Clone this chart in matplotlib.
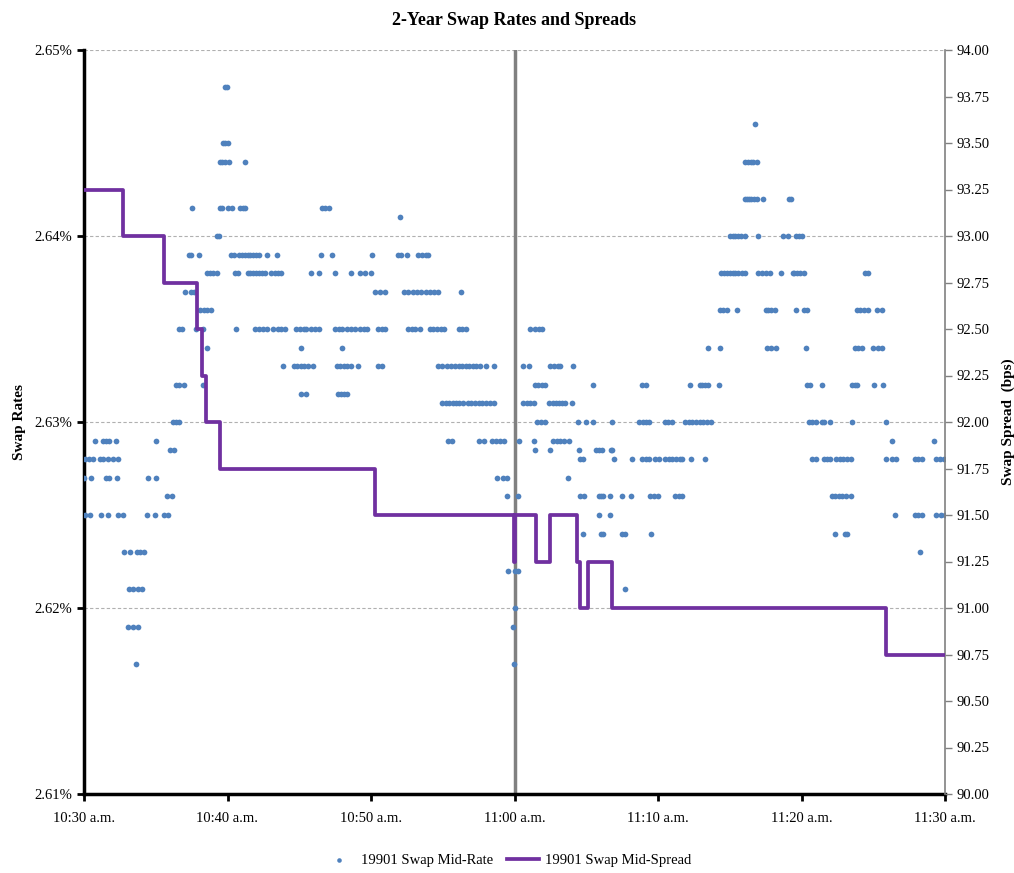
import matplotlib.pyplot as plt
import numpy as np

plt.rcParams['font.family'] = ['Liberation Serif', 'DejaVu Serif']

# mid-rate observations: rate level (%) -> minutes after 10:30
rate_levels = [2.648, 2.646, 2.645, 2.644, 2.642, 2.6415, 2.641, 2.640, 2.639, 2.638,
               2.637, 2.636, 2.635, 2.634, 2.633, 2.632, 2.6315, 2.631, 2.630, 2.629,
               2.6285, 2.628, 2.627, 2.626, 2.625, 2.624, 2.623, 2.622, 2.621, 2.620,
               2.619, 2.617]
rate_minutes = [
    [9.8, 9.95],
    [46.75],
    [9.7, 9.85, 10.0],
    [9.5, 9.65, 9.8, 10.1, 11.2, 46.05, 46.25, 46.45, 46.65, 46.9],
    [46.05, 46.2, 46.35, 46.5, 46.7, 46.9, 47.3, 49.1, 49.3],
    [7.5, 9.5, 9.65, 10.05, 10.3, 10.9, 11.05, 11.2, 16.6, 16.8, 17.05],
    [22.05],
    [9.25, 9.4, 45.0, 45.2, 45.4, 45.6, 45.8, 46.05, 47.0, 48.7, 49.05, 49.6, 49.8, 50.0],
    [7.3, 7.45, 8.0, 10.25, 10.45, 10.8, 11.0, 11.2, 11.4, 11.6, 11.8, 12.0, 12.2, 12.75,
     13.45, 16.5, 17.3, 20.1, 21.9, 22.1, 22.5, 23.3, 23.55, 23.8, 24.0],
    [8.6, 8.8, 9.0, 9.3, 10.5, 10.75, 11.4, 11.6, 11.8, 12.0, 12.2, 12.4, 12.6, 13.0, 13.3,
     13.5, 13.7, 15.8, 16.4, 17.5, 18.6, 19.2, 19.6, 20.0, 44.4, 44.6, 44.8, 45.0, 45.2,
     45.4, 45.6, 45.85, 46.05, 47.0, 47.25, 47.5, 47.8, 48.6, 49.4, 49.5, 49.7, 49.9, 50.2,
     54.4, 54.6],
    [7.05, 7.45, 7.7, 20.3, 20.65, 20.95, 22.3, 22.6, 22.9, 23.2, 23.5, 23.8, 24.1, 24.4,
     24.7, 26.3],
    [8.1, 8.35, 8.6, 8.85, 44.3, 44.5, 44.8, 45.5, 47.5, 47.7, 47.9, 48.15, 49.6, 50.2, 50.4,
     53.9, 54.1, 54.35, 54.6, 55.25, 55.6],
    [6.6, 6.85, 7.8, 8.3, 10.6, 11.9, 12.2, 12.5, 12.75, 13.2, 13.5, 13.75, 14.0, 14.8, 15.05,
     15.3, 15.5, 15.8, 16.1, 16.4, 17.5, 17.75, 18.0, 18.3, 18.6, 18.9, 19.2, 19.5, 19.7,
     20.5, 20.75, 21.0, 22.6, 22.85, 23.1, 23.4, 24.1, 24.35, 24.6, 24.85, 25.1, 26.1, 26.35,
     26.6, 31.1, 31.4, 31.7, 31.95],
    [8.55, 15.1, 18.0, 43.5, 44.3, 47.6, 47.85, 48.2, 50.3, 53.7, 53.95, 54.2, 55.0, 55.3,
     55.6],
    [13.9, 14.6, 14.85, 15.1, 15.35, 15.6, 15.95, 17.6, 17.85, 18.1, 18.35, 18.6, 19.1, 20.5,
     20.8, 24.7, 24.95, 25.3, 25.6, 25.85, 26.1, 26.35, 26.6, 26.85, 27.1, 27.35, 27.6, 28.0,
     28.6, 30.6, 31.0, 32.5, 32.75, 33.0, 33.2, 34.1],
    [6.4, 6.65, 6.95, 8.3, 31.4, 31.65, 31.9, 32.1, 35.5, 38.9, 39.15, 42.2, 42.9, 43.05,
     43.25, 43.5, 44.25, 50.4, 50.6, 51.4, 53.5, 53.75, 53.9, 55.05, 55.7],
    [15.1, 15.5, 17.7, 17.9, 18.1, 18.3],
    [24.95, 25.2, 25.45, 25.7, 25.95, 26.1, 26.4, 26.75, 27.0, 27.25, 27.5, 27.75, 28.0, 28.3,
     28.6, 30.6, 30.85, 31.1, 31.35, 32.4, 32.65, 32.9, 33.1, 33.3, 33.5, 34.0],
    [6.2, 6.4, 6.6, 31.6, 31.85, 32.1, 34.4, 35.0, 35.5, 36.8, 38.7, 38.95, 39.15, 39.4, 40.5,
     40.7, 41.0, 41.9, 42.15, 42.4, 42.65, 42.9, 43.15, 43.4, 43.7, 50.5, 50.75, 51.0, 51.4,
     51.6, 52.0, 53.5, 55.9],
    [0.75, 1.3, 1.5, 1.75, 2.2, 5.05, 25.4, 25.65, 27.5, 27.9, 28.4, 28.7, 29.0, 29.3, 30.3,
     31.35, 32.7, 32.95, 33.2, 33.45, 33.8, 56.3, 59.2],
    [6.0, 6.3, 31.4, 32.5, 34.5, 35.7, 35.9, 36.1, 36.7, 36.8],
    [0.1, 0.35, 0.6, 1.1, 1.35, 1.7, 2.05, 2.4, 34.55, 34.8, 36.9, 38.2, 38.9, 39.15, 39.4,
     39.8, 40.1, 40.5, 40.75, 41.0, 41.25, 41.5, 41.7, 42.3, 43.3, 50.7, 51.0, 51.6, 51.8,
     52.0, 52.4, 52.65, 52.9, 53.15, 53.45, 55.9, 56.3, 56.6, 57.9, 58.15, 58.4, 59.4, 59.65,
     59.9],
    [0.0, 0.5, 1.5, 1.75, 2.3, 4.45, 5.05, 28.8, 29.2, 29.5, 33.7],
    [5.75, 6.1, 29.5, 30.25, 34.55, 34.85, 35.9, 36.05, 36.2, 36.65, 37.5, 38.1, 39.45, 39.7,
     40.0, 41.2, 41.45, 41.7, 52.1, 52.35, 52.6, 52.85, 53.1, 53.45],
    [0.1, 0.45, 1.15, 1.65, 2.35, 2.75, 4.4, 4.95, 5.6, 5.85, 35.9, 36.65, 56.5, 57.9, 58.15,
     58.4, 59.4, 59.7, 60.0],
    [34.8, 36.0, 36.2, 37.5, 37.7, 39.5, 52.3, 53.0, 53.2],
    [2.8, 3.2, 3.7, 3.9, 4.2, 58.25],
    [29.55, 30.05, 30.25],
    [3.15, 3.4, 3.75, 4.05, 37.7],
    [30.0],
    [3.1, 3.4, 3.75, 29.9],
    [3.6, 29.95],
]

# mid-spread (bps), step changes at these minutes after 10:30
spread_minutes = [0, 2.75, 5.6, 7.85, 8.2, 8.5, 9.5, 20.3, 29.95, 30.05, 31.5, 32.5,
                  34.35, 34.55, 35.1, 36.8, 55.9, 60]
spread_bps = [93.25, 93.0, 92.75, 92.5, 92.25, 92.0, 91.75, 91.5, 91.25, 91.5, 91.25, 91.5,
              91.25, 91.0, 91.25, 91.0, 90.75, 90.75]

xtick_minutes = [0, 10, 20, 30, 40, 50, 60]
xtick_labels = ['10:30 a.m.', '10:40 a.m.', '10:50 a.m.', '11:00 a.m.',
                '11:10 a.m.', '11:20 a.m.', '11:30 a.m.']

xs, ys = [], []
for lvl, mins in zip(rate_levels, rate_minutes):
    xs.extend(mins)
    ys.extend([lvl] * len(mins))

fig = plt.figure(figsize=(10.14, 8.73), dpi=100)
ax = fig.add_axes([84 / 1014, 1 - 794 / 873, (945 - 84) / 1014, (794 - 50) / 873])
ax2 = ax.twinx()

ax.axvline(30, color='#808080', lw=2.5, zorder=1)
pts = ax.scatter(xs, ys, s=17, color='#4F81BD', linewidths=0, zorder=3,
                 label='19901 Swap Mid-Rate')
line, = ax2.plot(spread_minutes, spread_bps, drawstyle='steps-post', color='#7030A0',
                 lw=2.7, label='19901 Swap Mid-Spread', zorder=4)

ax.set_xlim(0, 60)
ax.set_ylim(2.61, 2.65)
ax2.set_ylim(90, 94)
ax.set_yticks([2.61, 2.62, 2.63, 2.64, 2.65])
ax.set_yticklabels(['2.61%', '2.62%', '2.63%', '2.64%', '2.65%'])
ax2.set_yticks(np.arange(90, 94.01, 0.25))
ax2.set_yticklabels(['%.2f' % v for v in np.arange(90, 94.01, 0.25)])
ax.set_xticks(xtick_minutes)
ax.set_xticklabels(xtick_labels)

ax.yaxis.grid(True, color='#b0b0b0', ls=(0, (3, 2)), lw=0.8)
ax.set_axisbelow(True)

for a in (ax, ax2):
    a.spines['top'].set_visible(False)
ax.spines['left'].set_linewidth(2.5)
ax.spines['bottom'].set_linewidth(2.5)
ax.spines['right'].set_visible(False)
ax2.spines['left'].set_visible(False)
ax2.spines['bottom'].set_visible(False)
ax2.spines['right'].set_color('#808080')
ax2.spines['right'].set_linewidth(1.2)

ax.tick_params(axis='both', direction='out', length=5, width=2, labelsize=10.5)
ax.tick_params(axis='x', pad=8)
ax2.tick_params(axis='y', direction='out', length=5, width=1, color='#808080',
                labelsize=10.5)

ax.set_ylabel('Swap Rates', fontsize=11, fontweight='bold', labelpad=6)
ax2.set_ylabel('Swap Spread  (bps)', fontsize=11, fontweight='bold', labelpad=8)
ax.set_title('2-Year Swap Rates and Spreads', fontsize=13, fontweight='bold', pad=18)

fig.legend([pts, line], ['19901 Swap Mid-Rate', '19901 Swap Mid-Spread'],
           loc='lower center', bbox_to_anchor=(0.5, -0.008), ncol=2, frameon=False,
           fontsize=10.5, handlelength=2.2, columnspacing=1.0, handletextpad=0.4,
           markerscale=0.8)

fig.savefig('out.png', dpi=100)
